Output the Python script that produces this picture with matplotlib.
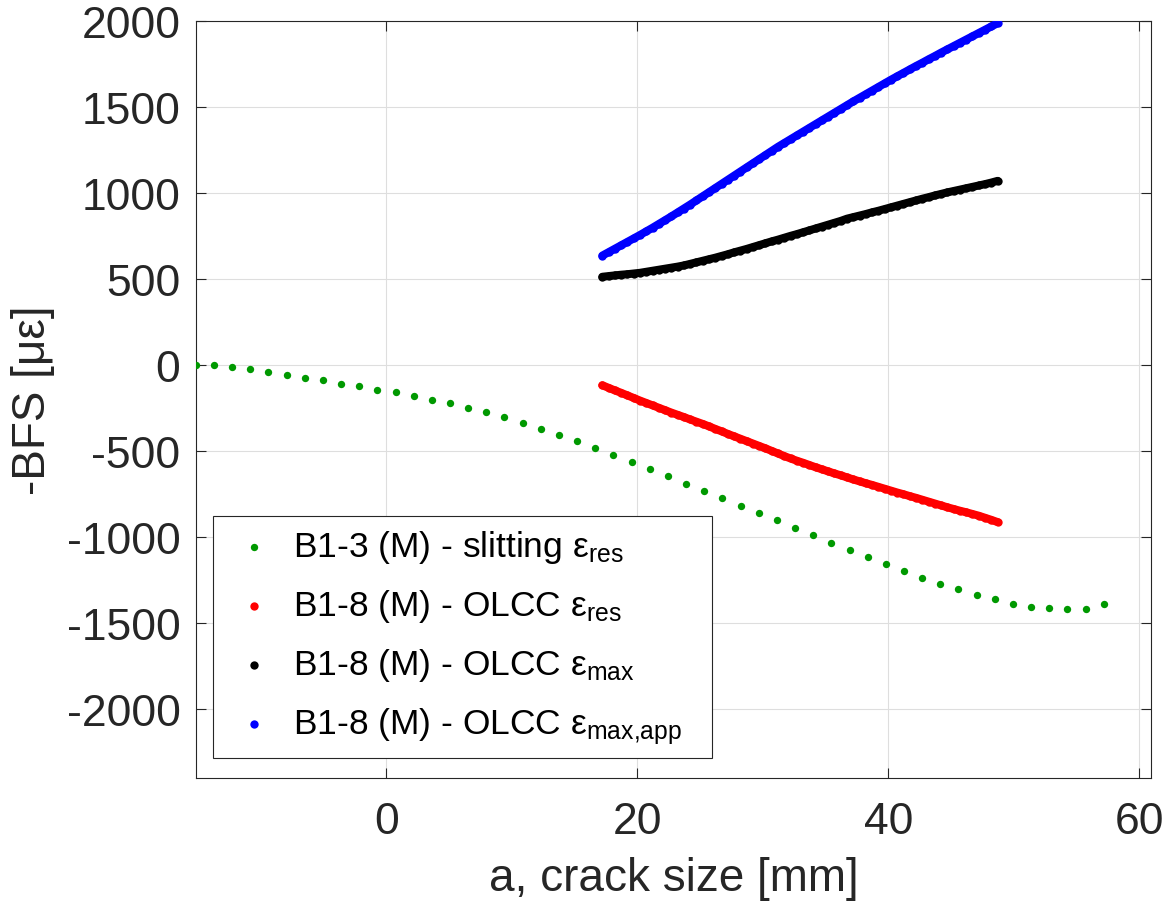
import matplotlib
matplotlib.use("Agg")
import matplotlib.pyplot as plt

plt.rcParams['font.family'] = ['Liberation Sans', 'DejaVu Sans']
plt.rcParams['mathtext.fontset'] = 'custom'
plt.rcParams['mathtext.rm'] = 'Liberation Sans'
plt.rcParams['mathtext.it'] = 'Liberation Sans'
plt.rcParams['axes.unicode_minus'] = False

# ---------------- data ----------------
# B1-3 (M) - slitting eps_res  (green dots)
a_slit = [-15.20, -13.75, -12.31, -10.86, -9.41, -7.96, -6.52, -5.07, -3.62, -2.18,
          -0.73, 0.72, 2.17, 3.61, 5.06, 6.51, 7.96, 9.40, 10.85, 12.30,
          13.74, 15.19, 16.64, 18.09, 19.53, 20.98, 22.43, 23.87, 25.32, 26.77,
          28.22, 29.66, 31.11, 32.56, 34.00, 35.45, 36.90, 38.35, 39.79, 41.24,
          42.69, 44.14, 45.58, 47.03, 48.48, 49.92, 51.37, 52.82, 54.27, 55.71,
          57.16]
eps_slit = [0, -2, -12, -23, -39, -55, -72, -89, -107, -124,
            -142, -159, -180, -200, -223, -248, -275, -304, -337, -370,
            -407, -444, -483, -521, -564, -607, -647, -690, -731, -773,
            -818, -863, -903, -948, -990, -1033, -1074, -1115, -1157, -1196,
            -1237, -1273, -1304, -1337, -1363, -1390, -1405, -1415, -1421, -1417,
            -1390]

# B1-8 (M) - OLCC series (dense measurements)
a_olcc = [17.2, 17.7, 18.2, 18.7, 19.2, 19.7, 20.2, 20.7, 21.2, 21.7,
          22.2, 22.7, 23.2, 23.7, 24.2, 24.7, 25.2, 25.7, 26.2, 26.7,
          27.2, 27.7, 28.2, 28.7, 29.2, 29.7, 30.2, 30.7, 31.2, 31.7,
          32.2, 32.7, 33.2, 33.7, 34.2, 34.7, 35.2, 35.7, 36.2, 36.7,
          37.2, 37.7, 38.2, 38.7, 39.2, 39.7, 40.2, 40.7, 41.2, 41.7,
          42.2, 42.7, 43.2, 43.7, 44.2, 44.7, 45.2, 45.7, 46.2, 46.7,
          47.2, 47.7, 48.2, 48.7]
eps_res = [-117, -132, -147, -161, -176, -191, -206, -220, -234, -248,
           -262, -276, -289, -302, -316, -329, -342, -356, -371, -385,
           -400, -414, -428, -442, -456, -470, -484, -499, -514, -529,
           -543, -556, -568, -581, -594, -606, -618, -630, -641, -653,
           -665, -676, -687, -697, -708, -719, -730, -741, -751, -762,
           -772, -783, -794, -805, -816, -827, -837, -847, -856, -866,
           -876, -888, -900, -913]
eps_max = [514, 518, 522, 526, 529, 533, 537, 543, 549, 555,
           561, 567, 573, 580, 589, 598, 607, 616, 625, 635,
           645, 656, 666, 676, 687, 698, 709, 720, 730, 741,
           752, 762, 773, 784, 795, 806, 817, 828, 839, 852,
           861, 870, 879, 889, 898, 908, 918, 928, 938, 948,
           958, 968, 977, 987, 996, 1005, 1013, 1021, 1029, 1037,
           1045, 1053, 1062, 1072]
eps_max_app = [637, 657, 677, 697, 717, 737, 757, 778, 799, 821,
               843, 865, 888, 911, 934, 958, 982, 1006, 1030, 1054,
               1078, 1102, 1126, 1150, 1174, 1198, 1222, 1246, 1270, 1292,
               1314, 1336, 1358, 1380, 1402, 1424, 1446, 1468, 1490, 1512,
               1534, 1555, 1576, 1597, 1618, 1639, 1660, 1680, 1700, 1720,
               1740, 1759, 1779, 1798, 1818, 1837, 1856, 1875, 1894, 1913,
               1932, 1951, 1970, 1989]

labels = ['B1-3 (M) - slitting ε$_{\\rm res}$',
          'B1-8 (M) - OLCC ε$_{\\rm res}$',
          'B1-8 (M) - OLCC ε$_{\\rm max}$',
          'B1-8 (M) - OLCC ε$_{\\rm max{,}app}$']
colors = ['#009900', '#ff0000', '#000000', '#0000ff']

x_ticks = [0, 20, 40, 60]
y_ticks = [-2000, -1500, -1000, -500, 0, 500, 1000, 1500, 2000]

# ---------------- figure ----------------
txt = '#262626'
fig = plt.figure(figsize=(11.7, 9.04), dpi=100)
ax = fig.add_axes([0.1673, 0.1386, 0.8165, 0.8367])

ax.scatter(a_slit, eps_slit, s=28, c=colors[0], linewidths=0, label=labels[0], zorder=3)
dense = [(eps_res, colors[1], labels[1]),
         (eps_max, colors[2], labels[2]),
         (eps_max_app, colors[3], labels[3])]
for vals, col, lab in dense:
    # the measurements are so dense that the markers merge into a band
    ax.plot(a_olcc, vals, color=col, lw=5.8, solid_capstyle='round',
            solid_joinstyle='round', zorder=3)
    ax.scatter(a_olcc, vals, s=36, c=col, linewidths=0, label=lab, zorder=3)

ax.set_xlim(-15.2, 60.93)
ax.set_ylim(-2400, 2000)
ax.set_xticks(x_ticks)
ax.set_yticks(y_ticks)
ax.grid(True, color='#dedede', linewidth=0.8)
ax.set_axisbelow(True)
ax.tick_params(direction='in', length=7, width=0.8, top=True, right=True,
               labelsize=32, colors=txt)
ax.tick_params(axis='x', pad=17)
ax.tick_params(axis='y', pad=11)
for sp in ax.spines.values():
    sp.set_color(txt)
    sp.set_linewidth(0.8)

ax.set_xlabel('a, crack size [mm]', fontsize=33, color=txt, labelpad=10)
ax.set_ylabel('-BFS [με]', fontsize=33, color=txt)
ax.yaxis.set_label_coords(-0.147, 0.5)

leg = ax.legend(loc='lower left', bbox_to_anchor=(0.0184, 0.0256, 0.5224, 0.32),
                mode='expand', borderaxespad=0,
                fontsize=25.5, frameon=True, fancybox=False, framealpha=1,
                edgecolor=txt, handletextpad=0.3, labelspacing=0.62,
                borderpad=0.35, handlelength=1.6, markerscale=1.0)
leg.get_frame().set_linewidth(0.8)

fig.savefig('out.png', dpi=100)
